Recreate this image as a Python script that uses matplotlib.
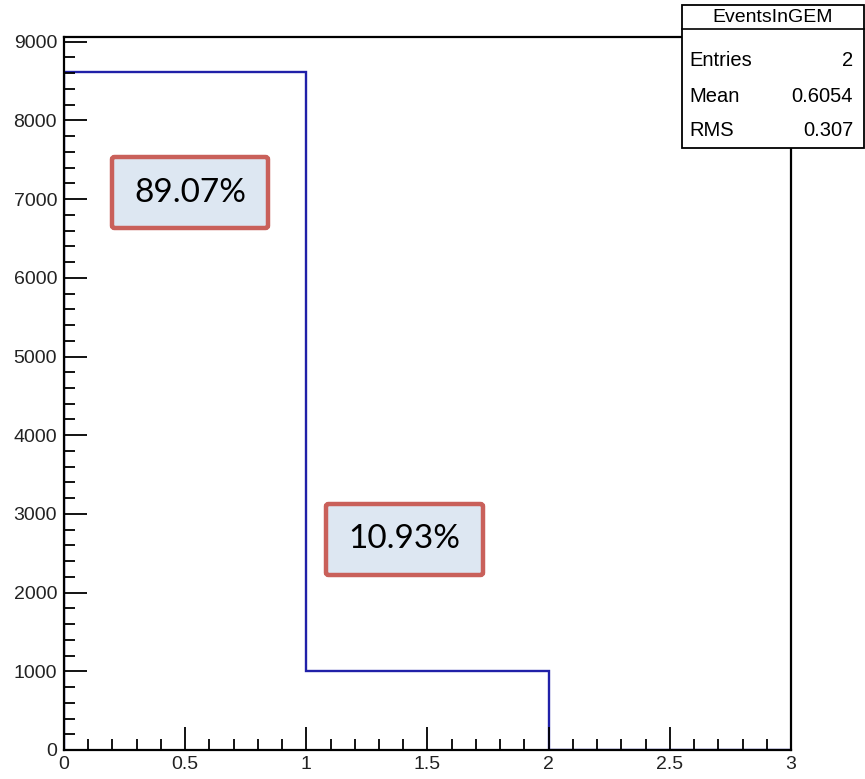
import matplotlib
matplotlib.use('Agg')
import matplotlib.pyplot as plt
import matplotlib.patches as patches
import numpy as np

# histogram data (EventsInGEM)
bin_edges = [0, 1, 2, 3]
bin_counts = [8615, 1010, 0]
hist_name = 'EventsInGEM'
stat_labels = ['Entries', 'Mean', 'RMS']
stat_values = ['2', '0.6054', '0.307']
pct_labels = ['89.07%', '10.93%']

W, H = 865, 779
narrow = ['Liberation Sans Narrow', 'Liberation Sans', 'DejaVu Sans']

def px_rect(x0, y0, x1, y1):
    # pixel box (top-left origin) -> figure fraction
    return x0 / W, 1 - y1 / H, (x1 - x0) / W, (y1 - y0) / H

fig = plt.figure(figsize=(W / 100, H / 100), dpi=100)
fig.patch.set_facecolor('white')
ax = fig.add_axes(px_rect(64, 37, 791, 750))

ax.stairs(bin_counts, bin_edges, color='#2020a8', linewidth=1.7, baseline=0)

ax.set_xlim(0, 3)
ax.set_ylim(0, 9060)
ax.set_xticks(np.arange(0, 3.01, 0.5))
ax.set_xticks(np.arange(0, 3.01, 0.1), minor=True)
ax.set_yticks(np.arange(0, 9001, 1000))
ax.set_yticks(np.arange(0, 9001, 200), minor=True)
ax.set_xticklabels(['0', '0.5', '1', '1.5', '2', '2.5', '3'])
ax.set_yticklabels([str(v) for v in range(0, 9001, 1000)])

ax.tick_params(which='both', direction='in', top=False, right=False, width=1.3, color='black')
ax.tick_params(which='major', length=16.5)
ax.tick_params(which='minor', length=8)
ax.tick_params(axis='y', pad=5)
ax.tick_params(axis='x', pad=4)
for lab in ax.get_xticklabels() + ax.get_yticklabels():
    lab.set_family(narrow)
    lab.set_fontsize(14)
    lab.set_color('#222222')
for sp in ax.spines.values():
    sp.set_linewidth(1.6)
    sp.set_color('black')

# stats box
sx0, sy0, sx1, sy1 = 682, 5, 864, 148
fig.add_artist(patches.Rectangle(px_rect(sx0, sy0, sx1, sy1)[:2],
                                 (sx1 - sx0) / W, (sy1 - sy0) / H,
                                 transform=fig.transFigure, facecolor='white',
                                 edgecolor='black', linewidth=1.3, zorder=10))
fig.add_artist(plt.Line2D([sx0 / W, sx1 / W], [1 - 29 / H, 1 - 29 / H],
                          transform=fig.transFigure, color='black', linewidth=1.2, zorder=11))
fig.text((sx0 + sx1) / 2 / W, 1 - 17 / H, hist_name, ha='center', va='center',
         fontsize=14, family=narrow, zorder=12)
row_y = [60, 96, 131]
for lab, val, yy in zip(stat_labels, stat_values, row_y):
    fig.text(689 / W, 1 - yy / H, lab, ha='left', va='center', fontsize=14.5, family=narrow, zorder=12)
    fig.text(853 / W, 1 - yy / H, val, ha='right', va='center', fontsize=14.5, family=narrow, zorder=12)

# percentage boxes
boxes = [(112, 157, 268, 228), (326, 504, 483, 575)]
for (x0, y0, x1, y1), txt in zip(boxes, pct_labels):
    fx, fy, fw, fh = px_rect(x0, y0, x1, y1)
    fig.add_artist(patches.FancyBboxPatch((fx, fy), fw, fh,
                                          boxstyle='round,pad=0,rounding_size=0.003',
                                          transform=fig.transFigure, facecolor='#dde7f2',
                                          edgecolor='#c9605a', linewidth=3.2, zorder=10))
    fig.text(fx + fw / 2, fy + fh / 2, txt, ha='center', va='center', fontsize=24,
             family=['Lato', 'DejaVu Sans'], color='black', zorder=12)

fig.savefig('out.png', dpi=100)
